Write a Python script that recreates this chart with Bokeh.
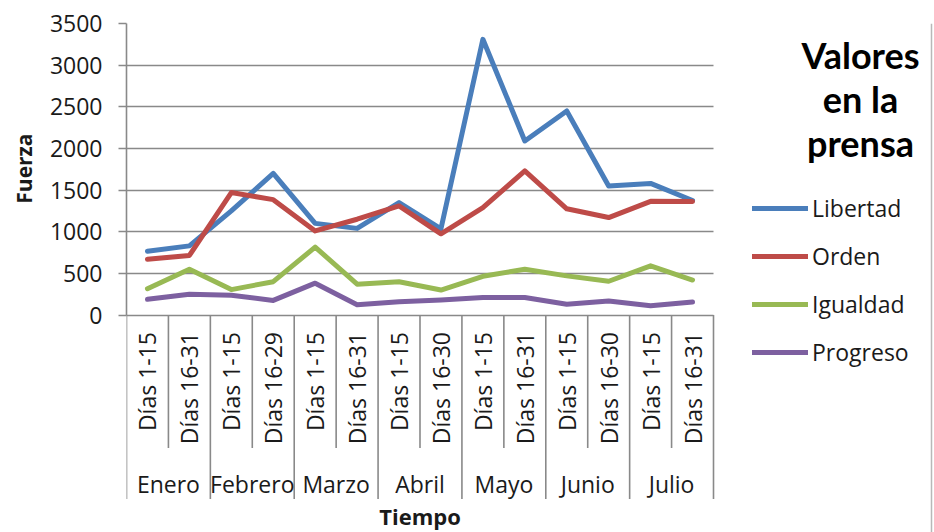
import math
from bokeh.plotting import figure
from bokeh.models import Range1d, FixedTicker, ColumnDataSource, Legend, LegendItem, Label, Title, Span
from bokeh.core.properties import value
from bokeh.embed import file_html
from bokeh.resources import INLINE

# ---------------- data ----------------
months = ["Enero", "Febrero", "Marzo", "Abril", "Mayo", "Junio", "Julio"]
period_months = ["Enero", "Enero", "Febrero", "Febrero", "Marzo", "Marzo", "Abril", "Abril",
                 "Mayo", "Mayo", "Junio", "Junio", "Julio", "Julio"]
periods = ["Días 1-15", "Días 16-31", "Días 1-15", "Días 16-29", "Días 1-15", "Días 16-31",
           "Días 1-15", "Días 16-30", "Días 1-15", "Días 16-31", "Días 1-15", "Días 16-30",
           "Días 1-15", "Días 16-31"]

libertad = [765, 830, 1250, 1700, 1100, 1040, 1350, 1035, 3310, 2090, 2450, 1550, 1580, 1375]
orden = [670, 715, 1470, 1385, 1010, 1150, 1310, 975, 1290, 1730, 1275, 1170, 1365, 1362]
igualdad = [315, 550, 305, 400, 815, 370, 400, 300, 465, 550, 470, 405, 590, 420]
progreso = [188, 250, 238, 175, 382, 122, 160, 180, 210, 210, 128, 168, 110, 155]

series_names = ["Libertad", "Orden", "Igualdad", "Progreso"]
series_values = [libertad, orden, igualdad, progreso]
series_colors = ["#4A7EBB", "#BE4B48", "#98B954", "#7D60A0"]

y_ticks = [0, 500, 1000, 1500, 2000, 2500, 3000, 3500]
x_title = "Tiempo"
y_title = "Fuerza"
chart_title = ["Valores", "en la", "prensa"]

# ---------------- layout constants ----------------
W, H = 934, 532
LEFT, TOP = 126, 23        # frame left / top (canvas px)
AXIS_END_PX = 713          # canvas x where the category axis ends
ZERO_PX = 314.5            # canvas y of value 0
BORDER_PX = 931            # thin slide border at the right
GRID = "#898989"
FONT = "Open Sans"
TXT = "#1a1a1a"

n = len(periods)
ymax = y_ticks[-1]
ymin = -ymax * (H - ZERO_PX) / (ZERO_PX - TOP)
px_per_x = (AXIS_END_PX - LEFT) / n
xmax = (W - LEFT) / px_per_x

p = figure(width=W, height=H, output_backend="svg", toolbar_location=None,
           x_range=Range1d(0, xmax), y_range=Range1d(ymin, ymax),
           x_axis_location=None,
           min_border_left=LEFT, min_border_right=0, min_border_top=TOP, min_border_bottom=0,
           background_fill_color="white", border_fill_color="white", outline_line_color=None)

for g in p.grid:
    if g.dimension == 0:
        g.visible = False

# y axis
ax = p.yaxis[0]
ax.ticker = FixedTicker(ticks=y_ticks)
ax.bounds = (0, ymax)
ax.axis_line_color = GRID
ax.axis_line_width = 1.6
ax.major_tick_line_color = GRID
ax.major_tick_line_width = 1.6
ax.major_tick_out = 8
ax.major_tick_in = 0
ax.minor_tick_line_color = None
ax.major_label_standoff = 16
ax.major_label_text_font = FONT
ax.major_label_text_font_size = "23px"
ax.major_label_text_color = TXT

p.ygrid.ticker = FixedTicker(ticks=y_ticks)
p.ygrid.grid_line_color = GRID
p.ygrid.grid_line_width = 1.6
p.ygrid.cross_bounds = (0, n)

# y axis title, placed beside the value part of the axis
p.add_layout(Title(text=y_title, align="right", offset=110, standoff=15,
                   vertical_align="middle", text_font=FONT, text_font_style="bold",
                   text_font_size="21px", text_color=TXT), "left")

# category separators (between periods short, between months long)
bx, blen = [], []
for k in range(n + 1):
    edge = k == 0 or k == n or period_months[k] != period_months[k - 1]
    bx.append(k)
    blen.append(184 if edge else 133)
sep = ColumnDataSource(dict(x=bx, y=[0] * len(bx), length=blen))
p.ray(x="x", y="y", length="length", length_units="screen", angle=-math.pi / 2,
      source=sep, line_color=GRID, line_width=1.6)

# period labels (vertical)
xc = [i + 0.5 for i in range(n)]
p.text(x=xc, y=[0] * n, text=periods, angle=math.pi / 2, text_align="right",
       text_baseline="middle", y_offset=17, text_font=value(FONT),
       text_font_size="23px", text_color=TXT)

# month labels
mx = []
for m in months:
    idx = [i for i, pm in enumerate(period_months) if pm == m]
    mx.append((idx[0] + idx[-1] + 1) / 2)
p.text(x=mx, y=[0] * len(mx), text=months, text_align="center", text_baseline="middle",
       y_offset=168.5, text_font=value(FONT), text_font_size="23px", text_color=TXT)

# series
items = []
for name, vals, col in zip(series_names, series_values, series_colors):
    r = p.line(xc, vals, line_color=col, line_width=5, line_join="round", line_cap="round")
    items.append(LegendItem(label=name, renderers=[r]))

legend = Legend(items=items, location=(626, 164), orientation="vertical",
                glyph_width=56, glyph_height=30, label_height=30, label_standoff=4,
                spacing=16, padding=0, margin=0, border_line_color=None,
                background_fill_alpha=0, label_text_font=FONT, label_text_font_size="23px",
                label_text_color=TXT)
p.add_layout(legend)

# x axis title
p.add_layout(Label(x=n / 2, y=2, x_units="data", y_units="screen", text=x_title,
                   text_align="center", text_baseline="bottom", text_font=FONT,
                   text_font_style="bold", text_font_size="22px", text_color=TXT))

# chart title (three lines)
for i, line in enumerate(chart_title):
    p.add_layout(Label(x=734, y=478 - 44 * i, x_units="screen", y_units="screen", text=line,
                       text_align="center", text_baseline="alphabetic", text_font="Lato",
                       text_font_style="bold", text_font_size="36px", text_color="black"))

# thin slide border at the right edge
p.add_layout(Span(location=(BORDER_PX - LEFT) / px_per_x, dimension="height",
                  line_color="#b8b8b8", line_width=1.5))

open("out.html", "w").write(file_html(p, INLINE))
